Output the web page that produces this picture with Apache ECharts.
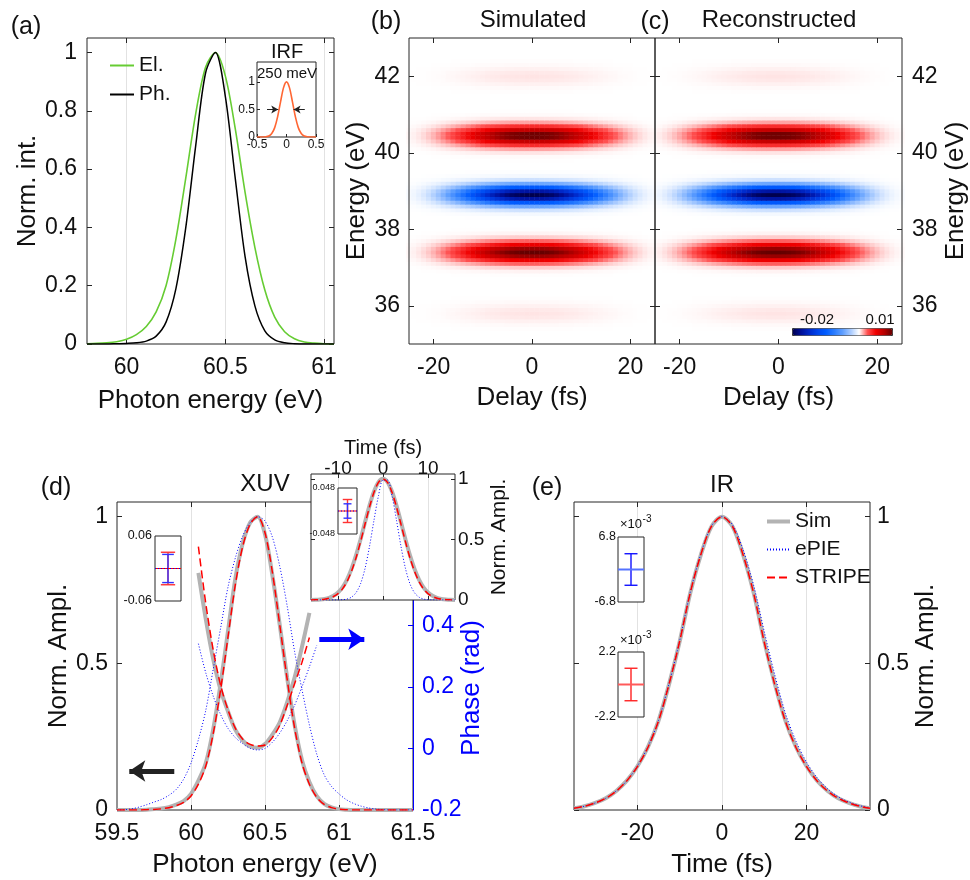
<!DOCTYPE html>
<html>
<head>
<meta charset="utf-8">
<title>XUV / IR reconstruction</title>
<script src="https://cdn.jsdelivr.net/npm/echarts@6.0.0/dist/echarts.min.js"></script>
<style>
html,body{margin:0;padding:0;background:#fff;}
#chart{width:970px;height:880px;}
</style>
</head>
<body>
<div id="chart"></div>
<script>
// ================= DATA =================
// (a) electron / photon spectra
const energyA = [59.8,59.85,59.9,59.95,60,60.05,60.1,60.15,60.2,60.25,60.3,60.35,60.4,60.45,60.5,60.55,60.6,60.65,60.7,60.75,60.8,60.85,60.9,60.95,61,61.05];
const electronSpec = [0.001,0.002,0.004,0.008,0.016,0.032,0.06,0.11,0.2,0.36,0.57,0.79,0.95,1,0.92,0.74,0.52,0.33,0.185,0.092,0.042,0.018,0.007,0.003,0.001,0];
const photonSpec = [0,0,0,0.001,0.002,0.004,0.01,0.027,0.075,0.19,0.4,0.68,0.93,1,0.85,0.57,0.3,0.13,0.045,0.014,0.004,0.001,0,0,0,0];
// (a) inset: instrument response function
const irfEnergy = [-0.5,-0.45,-0.4,-0.35,-0.3,-0.25,-0.2,-0.15,-0.1,-0.05,0,0.05,0.1,0.15,0.2,0.25,0.3,0.35,0.4,0.45,0.5];
const irfValue = [0,0,0.001,0.004,0.018,0.062,0.17,0.369,0.642,0.895,1,0.895,0.642,0.369,0.17,0.062,0.018,0.004,0.001,0,0];
const irfArrows = [[-0.33,-0.14,0.5],[0.31,0.12,0.5]]; // [tail, head, level]

// (b)(c) streaking traces
const delayHM = [-25,-24,-23,-22,-21,-20,-19,-18,-17,-16,-15,-14,-13,-12,-11,-10,-9,-8,-7,-6,-5,-4,-3,-2,-1,0,1,2,3,4,5,6,7,8,9,10,11,12,13,14,15,16,17,18,19,20,21,22,23,24,25];
const energyHM = [35,35.1,35.2,35.3,35.4,35.5,35.6,35.7,35.8,35.9,36,36.1,36.2,36.3,36.4,36.5,36.6,36.7,36.8,36.9,37,37.1,37.2,37.3,37.4,37.5,37.6,37.7,37.8,37.9,38,38.1,38.2,38.3,38.4,38.5,38.6,38.7,38.8,38.9,39,39.1,39.2,39.3,39.4,39.5,39.6,39.7,39.8,39.9,40,40.1,40.2,40.3,40.4,40.5,40.6,40.7,40.8,40.9,41,41.1,41.2,41.3,41.4,41.5,41.6,41.7,41.8,41.9,42,42.1,42.2,42.3,42.4,42.5,42.6,42.7,42.8,42.9,43];
const energyLineout = [0,0,0,0,0.00003,0.00009,0.00021,0.00034,0.0004,0.00034,
 0.00021,0.00009,0.00003,0,0,0,0,0,0.00003,0.00018,
 0.00077,0.0024,0.0055,0.0089,0.0105,0.0089,0.0055,0.0024,0.00077,0.00018,
 0.00003,0,0,-0.00006,-0.00036,-0.0015,-0.0048,-0.0109,-0.0178,-0.021,
 -0.0178,-0.0109,-0.0048,-0.0015,-0.00036,-0.00006,0,0,0.00001,0.00008,
 0.00039,0.0014,0.0038,0.0073,0.0101,0.0101,0.0073,0.0038,0.0014,0.00039,
 0.00008,0.00001,0,0,0,0,0.00003,0.00009,0.00021,0.00034,
 0.0004,0.00034,0.00021,0.00009,0.00003,0,0,0,0,0,0];
const delayEnvSim = [0.013,0.022,0.036,0.055,0.08,0.112,0.15,0.195,0.245,0.3,0.36,0.42,0.485,0.55,0.615,0.675,0.735,0.79,0.84,0.885,0.925,0.955,0.975,0.99,0.998,1,0.998,0.99,0.975,0.955,0.925,0.885,0.84,0.79,0.735,0.675,0.615,0.55,0.485,0.42,0.36,0.3,0.245,0.195,0.15,0.112,0.08,0.055,0.036,0.022,0.013];
const delayEnvRec = [0.0175,0.029,0.0455,0.0675,0.096,0.131,0.1725,0.22,0.2725,0.33,0.39,0.4525,0.5175,0.5825,0.645,0.705,0.7625,0.815,0.8625,0.905,0.94,0.965,0.9825,0.994,0.999,0.999,0.994,0.9825,0.965,0.94,0.905,0.8625,0.815,0.7625,0.705,0.645,0.5825,0.5175,0.4525,0.39,0.33,0.2725,0.22,0.1725,0.131,0.096,0.0675,0.0455,0.029,0.0175,0.01];
const cbarTicks = ['-0.02','0.01'];

// (d) XUV spectral amplitude and phase
const energyD = [59.5,59.55,59.6,59.65,59.7,59.75,59.8,59.85,59.9,59.95,60,60.05,60.1,60.15,60.2,60.25,60.3,60.35,60.4,60.45,60.5,60.55,60.6,60.65,60.7,60.75,60.8,60.85,60.9,60.95,61,61.05,61.1,61.15,61.2,61.25,61.3,61.35,61.4,61.45,61.5];
const simAmpD = [0,0,0,0,0.001,0.003,0.005,0.01,0.018,0.03,0.055,0.1,0.16,0.275,0.43,0.61,0.79,0.91,0.98,1,0.94,0.8,0.63,0.45,0.29,0.17,0.095,0.047,0.021,0.009,0.003,0.001,0,0,0,0,0,0,0,0,0];
const stripeAmpD = [0,0,0,0,0.001,0.002,0.004,0.008,0.015,0.026,0.048,0.088,0.15,0.26,0.41,0.59,0.77,0.9,0.975,1,0.945,0.81,0.63,0.445,0.28,0.16,0.088,0.043,0.019,0.008,0.003,0.001,0,0,0,0,0,0,0,0,0];
const epieAmpD = [0,0.001,0.004,0.01,0.018,0.027,0.036,0.05,0.07,0.105,0.16,0.24,0.34,0.48,0.62,0.76,0.86,0.935,0.98,1,0.985,0.93,0.83,0.695,0.54,0.41,0.29,0.19,0.12,0.08,0.055,0.035,0.022,0.013,0.007,0.003,0.001,0,0,0,0];
const phaseE = [60.05,60.1,60.15,60.2,60.25,60.3,60.35,60.4,60.45,60.5,60.55,60.6,60.65,60.7,60.75,60.8,60.85];
const simPhaseD = [0.57,0.42,0.29,0.19,0.12,0.06,0.025,0.006,0.002,0.014,0.045,0.085,0.15,0.23,0.33,0.44];
const stripePhaseD = [0.655,0.47,0.32,0.205,0.125,0.065,0.03,0.013,0.008,0.011,0.035,0.075,0.14,0.21,0.28,0.36];
const epiePhaseD = [0.34,0.245,0.17,0.11,0.065,0.035,0.015,0,-0.005,0,0.02,0.05,0.09,0.14,0.2,0.265,0.335];
const dArrows = [[59.887,59.583,0.133,'#222222'],[60.867,61.171,0.582,'#0000ff']]; // [tail, head, level, colour]
// (d) inset: XUV temporal amplitude
const timeI = [-16,-15,-14,-13,-12,-11,-10,-9,-8,-7,-6,-5,-4,-3,-2,-1,0,1,2,3,4,5,6,7,8,9,10,11,12,13,14,15,16];
const simTimeI = [0.0008,0.0019,0.0043,0.009,0.018,0.035,0.062,0.105,0.169,0.257,0.368,0.499,0.641,0.779,0.895,0.973,1,0.973,0.895,0.779,0.641,0.499,0.368,0.257,0.169,0.105,0.062,0.035,0.018,0.009,0.0043,0.0019,0.0008];
const stripeTimeI = [0.0005,0.0013,0.003,0.007,0.015,0.029,0.053,0.092,0.152,0.237,0.347,0.48,0.625,0.768,0.889,0.971,1,0.971,0.889,0.768,0.625,0.48,0.347,0.237,0.152,0.092,0.053,0.029,0.015,0.007,0.003,0.0013,0.0005];
const epieTimeI = [0,0,0,0,0,0.0002,0.0006,0.0024,0.008,0.0235,0.06,0.133,0.259,0.442,0.659,0.861,0.99,0.99,0.861,0.659,0.442,0.259,0.133,0.06,0.0235,0.008,0.0024,0.0006,0.0002,0,0,0,0];

// (e) IR temporal amplitude
const timeE = [-35,-32.5,-30,-27.5,-25,-22.5,-20,-17.5,-15,-12.5,-10,-7.5,-5,-2.5,0,2.5,5,7.5,10,12.5,15,17.5,20,22.5,25,27.5,30,32.5,35];
const simIR = [0.006,0.013,0.024,0.04,0.065,0.1,0.149,0.215,0.305,0.43,0.575,0.74,0.87,0.966,1,0.966,0.87,0.74,0.575,0.43,0.305,0.215,0.149,0.1,0.065,0.04,0.024,0.013,0.006];
const stripeIR = [0.006,0.013,0.024,0.04,0.064,0.1,0.148,0.214,0.304,0.43,0.576,0.741,0.871,0.967,1,0.966,0.869,0.738,0.572,0.426,0.302,0.213,0.148,0.099,0.064,0.04,0.024,0.013,0.006];
const epieIR = [0.006,0.013,0.024,0.04,0.065,0.1,0.15,0.216,0.306,0.432,0.578,0.743,0.873,0.968,1,0.972,0.887,0.765,0.608,0.46,0.33,0.235,0.163,0.11,0.072,0.045,0.027,0.015,0.007];

// error-bar insets: [centre, low, high, cap half-width]
const errXuvSpecRed = [0,-0.03,0.03,0.55];
const errXuvSpecBlue = [0,-0.026,0.026,0.45];
const errXuvTimeRed = [0,-0.024,0.024,0.5];
const errXuvTimeBlue = [0,-0.015,0.015,0.42];
const errIrBlue = [0,-3.3,3.3,0.5];
const errIrRed = [0,-1.1,1.1,0.5];
const miniLineX = [-1,1];

// ================= STYLE =================
const FONT = "'Liberation Sans', Arial, Helvetica, sans-serif";
const INK = '#262626';
const TXT = '#111111';
const GRIDC = '#e2e2e2';
const GRAY = '#b3b3b3';
const RED = '#ff0000';
const BLUE = '#0000ff';
const TICK = 23;
const NAME = 26;

function merge(a, b) {
  const out = Object.assign({}, a);
  for (const k in b) {
    const v = b[k];
    if (v && typeof v === 'object' && !Array.isArray(v) && out[k] && typeof out[k] === 'object' && !Array.isArray(out[k])) out[k] = merge(out[k], v);
    else out[k] = v;
  }
  return out;
}
function axis(gridIndex, min, max, extra) {
  return merge({
    type: 'value', gridIndex: gridIndex, min: min, max: max, z: 1,
    axisLine: {show: false, onZero: false},
    axisTick: {show: true, inside: true, length: 5, lineStyle: {color: INK, width: 1}},
    axisLabel: {show: false, color: TXT, fontFamily: FONT, fontSize: TICK, margin: 9},
    splitLine: {show: false, lineStyle: {color: GRIDC, width: 1}},
    nameLocation: 'middle',
    nameTextStyle: {color: TXT, fontFamily: FONT, fontSize: NAME}
  }, extra || {});
}
const pairs = (xs, ys) => ys.map((y, i) => [xs[i], y]);
const box = (o) => Object.assign({show: true, borderColor: INK, borderWidth: 1, backgroundColor: 'transparent'}, o);

const grids = [
  box({left: 87, top: 38, width: 247, height: 306, z: 0}),                         // 0 (a)
  box({left: 257, top: 62, width: 59, height: 75, backgroundColor: '#fff', z: 1}),  // 1 IRF
  {left: 409, top: 38, width: 246, height: 306, show: false},                       // 2 (b) cells
  box({left: 409, top: 38, width: 246, height: 306, z: 5}),                         // 3 (b) frame
  {left: 655, top: 38, width: 247, height: 306, show: false},                       // 4 (c) cells
  box({left: 655, top: 38, width: 247, height: 306, z: 5}),                         // 5 (c) frame
  box({left: 117, top: 502, width: 296, height: 308, z: 0}),                        // 6 (d)
  box({left: 311, top: 474, width: 144, height: 126, backgroundColor: '#fff', z: 5}), // 7 (d) inset
  box({left: 155, top: 536, width: 26, height: 65, backgroundColor: '#fff', z: 5}),   // 8 (d) mini
  box({left: 338, top: 488, width: 19, height: 46, backgroundColor: '#fff', z: 8}),   // 9 (d) inset mini
  box({left: 574, top: 502, width: 296, height: 308, z: 0}),                        // 10 (e)
  box({left: 618, top: 537, width: 26, height: 65, backgroundColor: '#fff', z: 5}),   // 11 (e) mini up
  box({left: 618, top: 652, width: 26, height: 65, backgroundColor: '#fff', z: 5})    // 12 (e) mini low
];

const tA = [60, 60.5, 61];
const tAy = [0, 0.2, 0.4, 0.6, 0.8, 1];
const tDelay = [-20, 0, 20];
const tEn = [36, 38, 40, 42];
const tHalf = [0, 0.5, 1];

const xAxes = [
  axis(0, 59.8, 61.05, {position: 'bottom', axisTick: {customValues: tA}, axisLabel: {show: true, customValues: tA, margin: 12}, splitLine: {show: true}, name: 'Photon energy (eV)', nameGap: 44}), //0
  axis(0, 59.8, 61.05, {position: 'top', axisTick: {customValues: tA}}), //1
  axis(1, -0.5, 0.5, {position: 'bottom', z: 2, axisTick: {customValues: [-0.5, 0, 0.5], length: 3}, axisLabel: {show: true, customValues: [-0.5, 0, 0.5], fontSize: 12, margin: 2}}), //2
  {type: 'category', gridIndex: 2, data: delayHM, boundaryGap: false, show: false}, //3
  axis(3, -25, 25, {position: 'bottom', z: 6, axisTick: {customValues: tDelay}, axisLabel: {show: true, customValues: tDelay, margin: 12}, name: 'Delay (fs)', nameGap: 41}), //4
  axis(3, -25, 25, {position: 'top', z: 6, axisTick: {customValues: tDelay}}), //5
  {type: 'category', gridIndex: 4, data: delayHM, boundaryGap: false, show: false}, //6
  axis(5, -25, 25, {position: 'bottom', z: 6, axisTick: {customValues: tDelay}, axisLabel: {show: true, customValues: tDelay, margin: 12}, name: 'Delay (fs)', nameGap: 41}), //7
  axis(5, -25, 25, {position: 'top', z: 6, axisTick: {customValues: tDelay}}), //8
  axis(6, 59.5, 61.5, {position: 'bottom', axisTick: {customValues: tA}, axisLabel: {show: true, customValues: [59.5, 60, 60.5, 61, 61.5], margin: 12}, splitLine: {show: true}, name: 'Photon energy (eV)', nameGap: 42}), //9
  axis(6, 59.5, 61.5, {position: 'top', axisTick: {customValues: tA}}), //10
  axis(7, -16, 16, {position: 'top', z: 6, axisTick: {customValues: [-10, 0, 10], length: 4}, axisLabel: {show: true, customValues: [-10, 0, 10], fontSize: 19, margin: -4}, splitLine: {show: true}, name: 'Time (fs)', nameGap: 6, nameTextStyle: {fontSize: 20}}), //11
  axis(7, -16, 16, {position: 'bottom', z: 6, axisTick: {customValues: [-10, 0, 10], length: 4}}), //12
  axis(8, -1, 1, {z: 6, axisTick: {show: false}}), //13
  axis(9, -1, 1, {z: 9, axisTick: {show: false}}), //14
  axis(10, -35, 35, {position: 'bottom', axisTick: {customValues: tDelay}, axisLabel: {show: true, customValues: tDelay, margin: 12}, splitLine: {show: true}, name: 'Time (fs)', nameGap: 42}), //15
  axis(10, -35, 35, {position: 'top', axisTick: {customValues: tDelay}}), //16
  axis(11, -1, 1, {z: 6, axisTick: {show: false}}), //17
  axis(12, -1, 1, {z: 6, axisTick: {show: false}}) //18
];

const yAxes = [
  axis(0, 0, 1.05, {position: 'left', axisTick: {customValues: tAy}, axisLabel: {show: true, customValues: tAy, margin: 10}, name: 'Norm. int.', nameGap: 45}), //0
  axis(0, 0, 1.05, {position: 'right', axisTick: {customValues: tAy}}), //1
  axis(1, 0, 1.36, {position: 'left', z: 2, axisTick: {customValues: [0, 0.5, 1], length: 3}, axisLabel: {show: true, customValues: [0, 0.5, 1], fontSize: 12, margin: 2}}), //2
  {type: 'category', gridIndex: 2, data: energyHM, boundaryGap: false, show: false}, //3
  axis(3, 35, 43, {position: 'left', z: 6, axisTick: {customValues: tEn}, axisLabel: {show: true, customValues: tEn}, name: 'Energy (eV)', nameGap: 39}), //4
  axis(3, 35, 43, {position: 'right', z: 6, axisTick: {customValues: tEn}}), //5
  {type: 'category', gridIndex: 4, data: energyHM, boundaryGap: false, show: false}, //6
  axis(5, 35, 43, {position: 'left', z: 6, axisTick: {customValues: tEn}}), //7
  axis(5, 35, 43, {position: 'right', z: 6, axisTick: {customValues: tEn}, axisLabel: {show: true, customValues: tEn, margin: 10}, name: 'Energy (eV)', nameGap: 41}), //8
  axis(6, 0, 1.05, {position: 'left', axisTick: {customValues: tHalf}, axisLabel: {show: true, customValues: tHalf}, name: 'Norm. Ampl.', nameGap: 45}), //9
  axis(6, -0.2, 0.8, {position: 'right', z: 2, axisLine: {show: true, lineStyle: {color: BLUE, width: 1}}, axisTick: {customValues: [-0.2, 0, 0.2, 0.4, 0.6], lineStyle: {color: BLUE}}, axisLabel: {show: true, customValues: [-0.2, 0, 0.2, 0.4], color: BLUE, margin: 9}}), //10
  axis(7, 0, 1.04, {position: 'right', z: 6, axisTick: {customValues: tHalf, length: 4}, axisLabel: {show: true, customValues: tHalf, fontSize: 19, margin: 3}, name: 'Norm. Ampl.', nameGap: 10, nameTextStyle: {fontSize: 21}}), //11
  axis(7, 0, 1.04, {position: 'left', z: 6, axisTick: {customValues: tHalf, length: 4}}), //12
  axis(8, -0.06, 0.06, {position: 'left', z: 6, axisTick: {show: false}, axisLabel: {show: true, customValues: [-0.06, 0.06], fontSize: 12.5, margin: 3}}), //13
  axis(9, -0.048, 0.048, {position: 'left', z: 9, axisTick: {show: false}, axisLabel: {show: true, customValues: [-0.048, 0.048], fontSize: 9, margin: 3}}), //14
  axis(10, 0, 1.05, {position: 'right', axisTick: {customValues: tHalf}, axisLabel: {show: true, customValues: tHalf, margin: 7}, name: 'Norm. Ampl.', nameGap: 37}), //15
  axis(10, 0, 1.05, {position: 'left', axisTick: {customValues: tHalf}}), //16
  axis(11, -6.8, 6.8, {position: 'left', z: 6, axisTick: {show: false}, axisLabel: {show: true, customValues: [-6.8, 6.8], fontSize: 12.5, margin: 2}}), //17
  axis(12, -2.2, 2.2, {position: 'left', z: 6, axisTick: {show: false}, axisLabel: {show: true, customValues: [-2.2, 2.2], fontSize: 12.5, margin: 2}}) //18
];

// ================= SERIES =================
const series = [];
function line(name, xi, yi, xs, ys, color, width, type, z, extra) {
  series.push(Object.assign({
    type: 'line', name: name, xAxisIndex: xi, yAxisIndex: yi, data: pairs(xs, ys),
    smooth: 0.3, symbol: 'none', silent: true, z: z,
    lineStyle: {color: color, width: width, type: type},
    itemStyle: {color: color}
  }, extra || {}));
  return series.length - 1;
}
function errRender(params, api) {
  const x = api.value(0), lo = api.value(1), hi = api.value(2), cap = api.value(3);
  const pt = api.coord([x, hi]), pb = api.coord([x, lo]);
  const cl = api.coord([x - cap, hi])[0], cr = api.coord([x + cap, hi])[0];
  const st = {stroke: api.visual('color'), lineWidth: 1.4};
  return {type: 'group', children: [
    {type: 'line', shape: {x1: pt[0], y1: pt[1], x2: pb[0], y2: pb[1]}, style: st},
    {type: 'line', shape: {x1: cl, y1: pt[1], x2: cr, y2: pt[1]}, style: st},
    {type: 'line', shape: {x1: cl, y1: pb[1], x2: cr, y2: pb[1]}, style: st}
  ]};
}
function errbar(xi, yi, values, color, z) {
  series.push({type: 'custom', xAxisIndex: xi, yAxisIndex: yi, renderItem: errRender, data: [values],
    encode: {x: 0, y: [1, 2]}, itemStyle: {color: color}, silent: true, z: z});
}
function hline(xi, yi, color, width, type, z) {
  series.push({type: 'line', xAxisIndex: xi, yAxisIndex: yi, data: miniLineX.map(x => [x, 0]),
    symbol: 'none', silent: true, z: z, lineStyle: {color: color, width: width, type: type}});
}

// (a)
line('El.', 0, 0, energyA, electronSpec, '#66cc33', 1.6, 'solid', 2);
line('Ph.', 0, 0, energyA, photonSpec, '#000000', 1.5, 'solid', 2);
line('IRF', 2, 2, irfEnergy, irfValue, '#ff6633', 1.6, 'solid', 3, {
  markLine: {silent: true, symbol: ['none', 'arrow'], symbolSize: [6, 7], animation: false,
    label: {show: false}, lineStyle: {color: '#222', width: 1, type: 'solid'},
    data: irfArrows.map(a => [{coord: [a[0], a[2]]}, {coord: [a[1], a[2]]}])}
});

// (b)(c) heat maps: spectral line-out x delay envelope
function heatData(env) {
  const out = [];
  for (let i = 0; i < energyHM.length; i++)
    for (let j = 0; j < delayHM.length; j++)
      out.push([j, i, +(energyLineout[i] * env[j]).toFixed(7)]);
  return out;
}
series.push({type: 'heatmap', xAxisIndex: 3, yAxisIndex: 3, data: heatData(delayEnvSim), progressive: 0, silent: true, z: 1});
const heatB = series.length - 1;
series.push({type: 'heatmap', xAxisIndex: 6, yAxisIndex: 6, data: heatData(delayEnvRec), progressive: 0, silent: true, z: 1});
const heatC = series.length - 1;

// (d) main
line('Sim XUV', 9, 9, energyD, simAmpD, GRAY, 4, 'solid', 2, {
  markLine: {silent: true, symbol: ['none', 'arrow'], symbolSize: [16, 16], animation: false, label: {show: false},
    data: dArrows.map(a => [{coord: [a[0], a[2]], lineStyle: {color: a[3], width: 5, type: 'solid'}}, {coord: [a[1], a[2]]}])}
});
line('Sim XUV phase', 9, 10, phaseE, simPhaseD, GRAY, 4, 'solid', 2);
line('ePIE XUV', 9, 9, energyD, epieAmpD, BLUE, 1, [1, 2], 3);
line('ePIE XUV phase', 9, 10, phaseE, epiePhaseD, BLUE, 1, [1, 2], 3);
line('STRIPE XUV', 9, 9, energyD, stripeAmpD, RED, 1.5, [8, 4], 4);
line('STRIPE XUV phase', 9, 10, phaseE, stripePhaseD, RED, 1.5, [8, 4], 4);
// (d) inset
line('Sim XUV t', 11, 11, timeI, simTimeI, GRAY, 4, 'solid', 7);
line('ePIE XUV t', 11, 11, timeI, epieTimeI, BLUE, 1, [1, 2], 7);
line('STRIPE XUV t', 11, 11, timeI, stripeTimeI, RED, 1.5, [7, 4], 7);
// (d) error-bar boxes
hline(13, 13, RED, 1.2, 'solid', 7);
hline(13, 13, BLUE, 1.2, [1, 2], 7);
errbar(13, 13, errXuvSpecRed, '#ff3333', 7);
errbar(13, 13, errXuvSpecBlue, '#3333ff', 7);
hline(14, 14, RED, 1.2, 'solid', 10);
hline(14, 14, BLUE, 1.2, [1, 2], 10);
errbar(14, 14, errXuvTimeRed, '#ff3333', 10);
errbar(14, 14, errXuvTimeBlue, '#3333ff', 10);
// (e)
line('Sim', 15, 15, timeE, simIR, GRAY, 4, 'solid', 2);
line('ePIE', 15, 15, timeE, epieIR, BLUE, 1, [1, 2], 3);
line('STRIPE', 15, 15, timeE, stripeIR, RED, 1.5, [8, 4], 4);
hline(17, 17, '#5573ff', 2, 'solid', 7);
errbar(17, 17, errIrBlue, '#1111ff', 7);
hline(18, 18, '#ff5a5a', 2, 'solid', 7);
errbar(18, 18, errIrRed, '#ff2222', 7);

// ================= TEXT =================
function T(text, x, y, size, extra) {
  return merge({type: 'text', x: x, y: y, z: 30, silent: true,
    style: {text: text, fill: TXT, fontSize: size, fontFamily: FONT, align: 'center', verticalAlign: 'middle'}}, extra || {});
}
const texts = [
  T('(a)', 26, 27, 25), T('(b)', 386, 22, 25), T('Simulated', 533, 20, 24),
  T('(c)', 655, 22, 25), T('Reconstructed', 779, 20, 24),
  T('(d)', 56, 488, 25), T('XUV', 265, 484, 24), T('(e)', 547, 488, 25), T('IR', 722, 485, 24),
  T('IRF', 287, 52, 20), T('250 meV', 287, 74, 15),
  T(cbarTicks[0], 817, 320, 15), T(cbarTicks[1], 880, 320, 15),
  T('Phase (rad)', 472, 688, 26, {rotation: Math.PI / 2, style: {fill: BLUE}}),
  T('\u00d710', 631, 524, 13), T('-3', 647, 519, 10),
  T('\u00d710', 631, 640, 13), T('-3', 647, 635, 10)
];

const cmap = ['#00004d','#000e96','#0028c8','#0044ea','#005cff','#2a7cff','#5e9eff','#a9cbff','#ffffff','#ff5050','#f00000','#b80000','#640000'];

const option = {
  animation: false,
  backgroundColor: '#ffffff',
  textStyle: {fontFamily: FONT},
  grid: grids,
  xAxis: xAxes,
  yAxis: yAxes,
  visualMap: [{
    type: 'continuous', min: -0.021, max: 0.0105, seriesIndex: [heatB, heatC],
    inRange: {color: cmap}, orient: 'horizontal', left: 792, top: 328,
    itemWidth: 7, itemHeight: 100, calculable: false, hoverLink: false, text: null,
    padding: 0, borderWidth: 1, borderColor: '#333', z: 12
  }],
  legend: [
    {data: ['El.', 'Ph.'], orient: 'vertical', left: 109, top: 55, itemWidth: 24, itemHeight: 14, itemGap: 8,
      padding: 0, selectedMode: false, itemStyle: {opacity: 0},
      textStyle: {fontSize: 21, fontFamily: FONT, color: TXT, lineHeight: 20}},
    {data: [{name: 'Sim', lineStyle: {width: 4}}, 'ePIE', 'STRIPE'], orient: 'vertical', left: 765, top: 511, itemWidth: 23, itemHeight: 14, itemGap: 7,
      padding: 0, selectedMode: false, itemStyle: {opacity: 0},
      textStyle: {fontSize: 21, fontFamily: FONT, color: TXT, lineHeight: 20}}
  ],
  series: series,
  graphic: texts
};

const chart = echarts.init(document.getElementById('chart'), null, {renderer: 'canvas'});
chart.setOption(option);
</script>
</body>
</html>
